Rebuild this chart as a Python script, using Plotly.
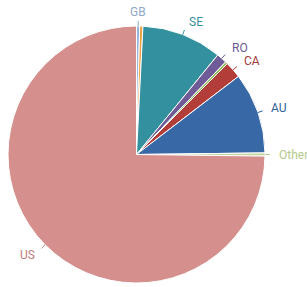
import math
import plotly.graph_objects as go

# ---- data ----
labels = ["GB", "", "SE", "RO", " ", "CA", "AU", "Other", "US"]
values = [0.4, 0.4, 10.1, 1.3, 0.3, 2.1, 10.2, 0.4, 74.8]
slice_colors = ["#9ab5dc", "#f0a040", "#33909f", "#6f5b98", "#9bbb59",
                "#b23d39", "#3868a6", "#c4d79b", "#d58f8d"]
label_colors = ["#8fa9c9", "#f0a040", "#3a8ea2", "#6a5a96", "#9bbb59",
                "#a33a36", "#2f5f99", "#b5c98e", "#c27c7b"]

W, H = 307, 287
CX, CY, R = 136.5, 154.5, 128.5  # pie centre / radius in pixels

fig = go.Figure(go.Pie(
    labels=[l if l.strip() else f"_{i}" for i, l in enumerate(labels)],
    values=values,
    sort=False,
    direction="clockwise",
    rotation=0,
    marker=dict(colors=slice_colors, line=dict(color="white", width=1)),
    textinfo="none",
    hoverinfo="label+percent",
    showlegend=False,
    domain=dict(x=[(CX - R) / W, (CX + R) / W],
                y=[(H - CY - R) / H, (H - CY + R) / H]),
))

total = sum(values)
cum = 0.0
annotations, shapes = [], []
for lab, v, lc in zip(labels, values, label_colors):
    mid = (cum + v / 2) / total * 2 * math.pi
    cum += v
    if not lab.strip():
        continue
    s, c = math.sin(mid), math.cos(mid)
    # connector
    x0, y0 = CX + R * s, CY - R * c
    x1, y1 = CX + (R + 5) * s, CY - (R + 5) * c
    shapes.append(dict(type="line", xref="paper", yref="paper",
                       x0=x0 / W, y0=1 - y0 / H, x1=x1 / W, y1=1 - y1 / H,
                       line=dict(color=lc, width=1)))
    tx, ty = CX + (R + 12) * s, CY - (R + 14) * c
    xa = "left" if s > 0.3 else ("right" if s < -0.3 else "center")
    annotations.append(dict(text=lab, x=tx / W, y=1 - ty / H, xref="paper",
                            yref="paper", xanchor=xa, yanchor="middle",
                            showarrow=False,
                            font=dict(family="Roboto", size=12, color=lc)))

fig.update_layout(
    width=W, height=H,
    margin=dict(l=0, r=0, t=0, b=0),
    paper_bgcolor="white", plot_bgcolor="white",
    annotations=annotations, shapes=shapes,
)
fig.write_html("out.html",
               config={"displayModeBar": False},
               post_script="document.body.style.margin='0';"
                           "document.body.style.overflow='hidden';")
